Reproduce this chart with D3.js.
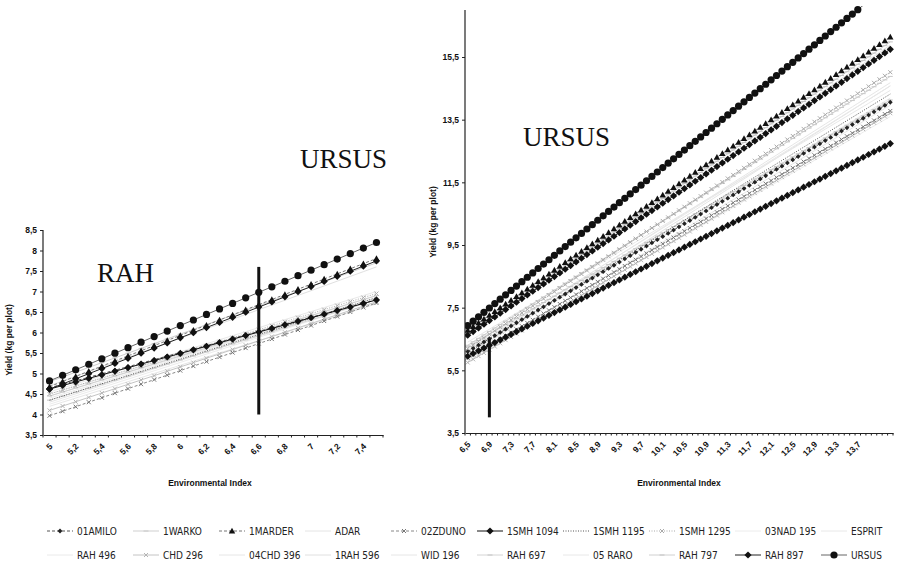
<!DOCTYPE html>
<html>
<head>
<meta charset="utf-8">
<script src="https://cdn.jsdelivr.net/npm/d3@7/dist/d3.min.js"></script>
<style>
  body { margin: 0; background: #fff; }
  svg { display: block; }
  .tick text { font-family: Arial, "Liberation Sans", sans-serif; font-size: 8.5px; font-weight: bold; fill: #111; }
  .axis-title { font-family: Arial, "Liberation Sans", sans-serif; font-size: 8.5px; font-weight: bold; fill: #111; }
  .big-label { font-family: "Liberation Serif", "Times New Roman", serif; font-size: 27px; fill: #111; }
  .legend text { font-family: "Liberation Sans Narrow", "DejaVu Sans Condensed", "Arial Narrow", sans-serif; font-size: 10px; fill: #222; }
</style>
</head>
<body>
<div id="chart"></div>
<script>
// varieties, in legend order
const varieties = ['01AMILO', '1WARKO', '1MARDER', 'ADAR', '02ZDUNO', '1SMH 1094', '1SMH 1195', '1SMH 1295', '03NAD 195', 'ESPRIT',
  'RAH 496', 'CHD 296', '04CHD 396', '1RAH 596', 'WID 196', 'RAH 697', '05 RARO', 'RAH 797', 'RAH 897', 'URSUS'];

// RAH panel: environmental index categories, yield at the lowest index and regression slope
const rahIndex = [5.0, 5.1, 5.2, 5.3, 5.4, 5.5, 5.6, 5.7, 5.8, 5.9, 6.0, 6.1, 6.2, 6.3, 6.4, 6.5, 6.6, 6.7, 6.8, 6.9, 7.0, 7.1, 7.2, 7.3, 7.4, 7.5];
const rahYieldAtMin = [4.65, 4.45, 4.68, 4.3, 3.97, 4.62, 4.35, 4.5, 4.25, 4.55, 4.4, 4.1, 4.5, 4.7, 4.2, 4.35, 4.45, 4.8, 4.62, 4.82];
const rahSlope = [0.86, 0.98, 1.25, 1.02, 1.10, 0.87, 1.00, 0.98, 1.02, 0.98, 0.98, 1.06, 0.96, 1.16, 1.00, 0.98, 0.96, 1.16, 1.25, 1.35];
const rahXLabels = [5.0, 5.2, 5.4, 5.6, 5.8, 6.0, 6.2, 6.4, 6.6, 6.8, 7.0, 7.2, 7.4];
const rahYTicks = [3.5, 4, 4.5, 5, 5.5, 6, 6.5, 7, 7.5, 8, 8.5];
const rahMark = [6.6, 4.0, 7.6]; // index, from yield, to yield

// URSUS panel
const ursusIndex = [6.5, 6.6, 6.7, 6.8, 6.9, 7.0, 7.1, 7.2, 7.3, 7.4, 7.5, 7.6, 7.7, 7.8, 7.9, 8.0, 8.1, 8.2, 8.3, 8.4,
  8.5, 8.6, 8.7, 8.8, 8.9, 9.0, 9.1, 9.2, 9.3, 9.4, 9.5, 9.6, 9.7, 9.8, 9.9, 10.0, 10.1, 10.2, 10.3, 10.4,
  10.5, 10.6, 10.7, 10.8, 10.9, 11.0, 11.1, 11.2, 11.3, 11.4, 11.5, 11.6, 11.7, 11.8, 11.9, 12.0, 12.1, 12.2, 12.3, 12.4,
  12.5, 12.6, 12.7, 12.8, 12.9, 13.0, 13.1, 13.2, 13.3, 13.4, 13.5, 13.6, 13.7, 13.8, 13.9, 14.0, 14.1, 14.2, 14.3];
const ursusYieldAtMin = [6.1, 6.3, 6.78, 6.0, 5.9, 5.95, 6.05, 6.2, 5.8, 6.4, 6.0, 5.75, 6.1, 6.6, 5.85, 6.25, 6.15, 6.7, 6.62, 6.93];
const ursusSlope = [1.02, 1.10, 1.20, 1.10, 1.01, 0.87, 1.06, 1.13, 1.00, 1.03, 1.05, 1.02, 1.10, 1.19, 1.04, 1.01, 1.08, 1.19, 1.17, 1.40];
const ursusXLabels = [6.5, 6.9, 7.3, 7.7, 8.1, 8.5, 8.9, 9.3, 9.7, 10.1, 10.5, 10.9, 11.3, 11.7, 12.1, 12.5, 12.9, 13.3, 13.7];
const ursusYTicks = [3.5, 5.5, 7.5, 9.5, 11.5, 13.5, 15.5];
const ursusMark = [6.9, 4.0, 6.5];

// look of each series (Excel b/w print); r = marker half size in px
const looks = {
  '01AMILO':   { stroke: '#555', dash: '3,2', marker: 'diamond', r: 2.4, fill: '#222' },
  '1WARKO':    { stroke: '#cfcfcf', marker: 'dash', fill: '#c8c8c8' },
  '1MARDER':   { stroke: '#777', dash: '3,2', marker: 'triangle', r: 3.2, fill: '#111' },
  'ADAR':      { stroke: '#e4e4e4' },
  '02ZDUNO':   { stroke: '#888', dash: '3,2', marker: 'x', fill: '#777' },
  '1SMH 1094': { stroke: '#111', marker: 'diamond', r: 3.6, fill: '#111' },
  '1SMH 1195': { stroke: '#555', dash: '1,1.5' },
  '1SMH 1295': { stroke: '#aaa', dash: '1,1.5', marker: 'x', fill: '#aaa' },
  '03NAD 195': { stroke: '#ececec' },
  'ESPRIT':    { stroke: '#e8e8e8' },
  'RAH 496':   { stroke: '#eaeaea' },
  'CHD 296':   { stroke: '#c4c4c4', marker: 'x', fill: '#b4b4b4' },
  '04CHD 396': { stroke: '#e6e6e6' },
  '1RAH 596':  { stroke: '#e0e0e0' },
  'WID 196':   { stroke: '#e6e6e6' },
  'RAH 697':   { stroke: '#d4d4d4', marker: 'dash', fill: '#c4c4c4' },
  '05 RARO':   { stroke: '#e8e8e8' },
  'RAH 797':   { stroke: '#d0d0d0', marker: 'dash', fill: '#c4c4c4' },
  'RAH 897':   { stroke: '#222', marker: 'diamond', r: 3.6, fill: '#111' },
  'URSUS':     { stroke: '#666', marker: 'circle', r: 3.6, fill: '#111' }
};
const drawOrder = [3, 8, 9, 10, 12, 13, 14, 16, 1, 15, 17, 11, 7, 6, 4, 0, 2, 5, 18, 19];

const width = 900, height = 562;
const comma = d => String(d).replace('.', ',');

const svg = d3.select('#chart').append('svg')
  .attr('width', width)
  .attr('height', height);

function markerPath(type, r) {
  if (type === 'x') return 'M-2,-2L2,2M-2,2L2,-2';
  if (type === 'dash') return 'M-2.5,0L2.5,0';
  if (type === 'diamond') return `M0,${-r}L${r},0L0,${r}L${-r},0Z`;
  if (type === 'triangle') return `M0,${-r}L${r},${r * 0.8}L${-r},${r * 0.8}Z`;
  return d3.symbol().type(d3.symbolCircle).size(Math.PI * r * r)();
}

function drawMarker(g, look, x, y) {
  if (!look.marker) return;
  const p = g.append('path')
    .attr('transform', `translate(${x},${y})`)
    .attr('d', markerPath(look.marker, look.r || 3));
  if (look.marker === 'x' || look.marker === 'dash') {
    p.attr('fill', 'none').attr('stroke', look.fill).attr('stroke-width', 1);
  } else {
    p.attr('fill', look.fill).attr('stroke', 'none');
  }
}

function drawPanel(cfg) {
  const x = d3.scalePoint().domain(cfg.index).range([cfg.left, cfg.right]).padding(0.5);
  const y = d3.scaleLinear().domain(cfg.yDomain).range([cfg.bottom, cfg.top]);
  const g = svg.append('g');

  const clipId = 'clip-' + cfg.name;
  svg.append('clipPath').attr('id', clipId)
    .append('rect')
    .attr('x', cfg.left).attr('y', cfg.top - 4)
    .attr('width', cfg.right - cfg.left + 4).attr('height', cfg.bottom - cfg.top + 4);

  const plot = g.append('g').attr('clip-path', `url(#${clipId})`);
  const line = d3.line().x(d => x(d.ei)).y(d => y(d.v));

  drawOrder.forEach(i => {
    const name = varieties[i];
    const look = looks[name];
    const pts = cfg.index.map(ei => ({ ei, v: cfg.yieldAtMin[i] + cfg.slope[i] * (ei - cfg.index[0]) }));
    plot.append('path')
      .datum(pts)
      .attr('d', line)
      .attr('fill', 'none')
      .attr('stroke', look.stroke)
      .attr('stroke-width', 1)
      .attr('stroke-dasharray', look.dash || null);
    if (look.marker) {
      const mg = plot.append('g');
      pts.filter(d => d.v <= cfg.yDomain[1] + 0.1).forEach(d => drawMarker(mg, look, x(d.ei), y(d.v)));
    }
  });

  // vertical reference line
  g.append('line')
    .attr('x1', x(cfg.mark[0])).attr('x2', x(cfg.mark[0]))
    .attr('y1', y(cfg.mark[1])).attr('y2', y(cfg.mark[2]))
    .attr('stroke', '#111').attr('stroke-width', 3);

  // x axis
  const xAxis = g.append('g')
    .attr('transform', `translate(0,${cfg.bottom})`)
    .call(d3.axisBottom(x).tickValues(cfg.xLabels).tickSize(0).tickFormat(comma));
  xAxis.select('.domain').attr('stroke', '#222').attr('stroke-width', 1.2);
  xAxis.selectAll('.tick text')
    .attr('x', 0).attr('y', 0).attr('dy', 0)
    .attr('transform', 'translate(3,12) rotate(-45)')
    .style('text-anchor', 'end');
  // category tick marks
  const step = x.step();
  xAxis.selectAll('.cat-tick')
    .data(d3.range(cfg.index.length + 1))
    .join('line')
    .attr('class', 'cat-tick')
    .attr('x1', i => cfg.left + i * step).attr('x2', i => cfg.left + i * step)
    .attr('y1', 0).attr('y2', 2.5)
    .attr('stroke', '#222').attr('stroke-width', 1);

  // y axis
  const yAxis = g.append('g')
    .attr('transform', `translate(${cfg.left},0)`)
    .call(d3.axisLeft(y).tickValues(cfg.yTicks).tickSize(3).tickSizeOuter(0).tickPadding(3).tickFormat(comma));
  yAxis.select('.domain').attr('stroke', '#222').attr('stroke-width', 1.2)
    .attr('d', `M0,${cfg.bottom}V${cfg.top}`);
  yAxis.selectAll('.tick line').attr('stroke', '#222');

  g.append('text')
    .attr('class', 'axis-title')
    .attr('x', (cfg.left + cfg.right) / 2 + cfg.titleShift)
    .attr('y', 486)
    .attr('text-anchor', 'middle')
    .text('Environmental Index');

  g.append('text')
    .attr('class', 'axis-title')
    .attr('transform', `translate(${cfg.yTitleX},${cfg.yTitleY}) rotate(-90)`)
    .attr('text-anchor', 'middle')
    .text('Yield (kg per plot)');
}

drawPanel({
  name: 'rah', index: rahIndex, yieldAtMin: rahYieldAtMin, slope: rahSlope,
  xLabels: rahXLabels, yTicks: rahYTicks, yDomain: [3.5, 8.5], mark: rahMark,
  left: 43, right: 383, top: 230, bottom: 435, titleShift: -3, yTitleX: 12, yTitleY: 340
});

drawPanel({
  name: 'ursus', index: ursusIndex, yieldAtMin: ursusYieldAtMin, slope: ursusSlope,
  xLabels: ursusXLabels, yTicks: ursusYTicks, yDomain: [3.5, 17], mark: ursusMark,
  left: 465, right: 893, top: 10, bottom: 433, titleShift: 0, yTitleX: 436, yTitleY: 222
});

// big labels
svg.append('text').attr('class', 'big-label').attr('x', 97).attr('y', 282).text('RAH');
svg.append('text').attr('class', 'big-label').attr('x', 300).attr('y', 168).text('URSUS');
svg.append('text').attr('class', 'big-label').attr('x', 523).attr('y', 146).text('URSUS');

// legend
const legend = svg.append('g').attr('class', 'legend');
varieties.forEach((name, i) => {
  const col = i % 10, row = Math.floor(i / 10);
  const tx = 77 + col * 86;
  const ty = 531 + row * 24;
  const look = looks[name];
  const item = legend.append('g');
  item.append('line')
    .attr('x1', tx - 30).attr('x2', tx - 4)
    .attr('y1', ty).attr('y2', ty)
    .attr('stroke', look.stroke)
    .attr('stroke-width', 1)
    .attr('stroke-dasharray', look.dash || null);
  drawMarker(item, look, tx - 17, ty);
  item.append('text')
    .attr('x', tx).attr('y', ty + 3.5)
    .text(name);
});
</script>
</body>
</html>
